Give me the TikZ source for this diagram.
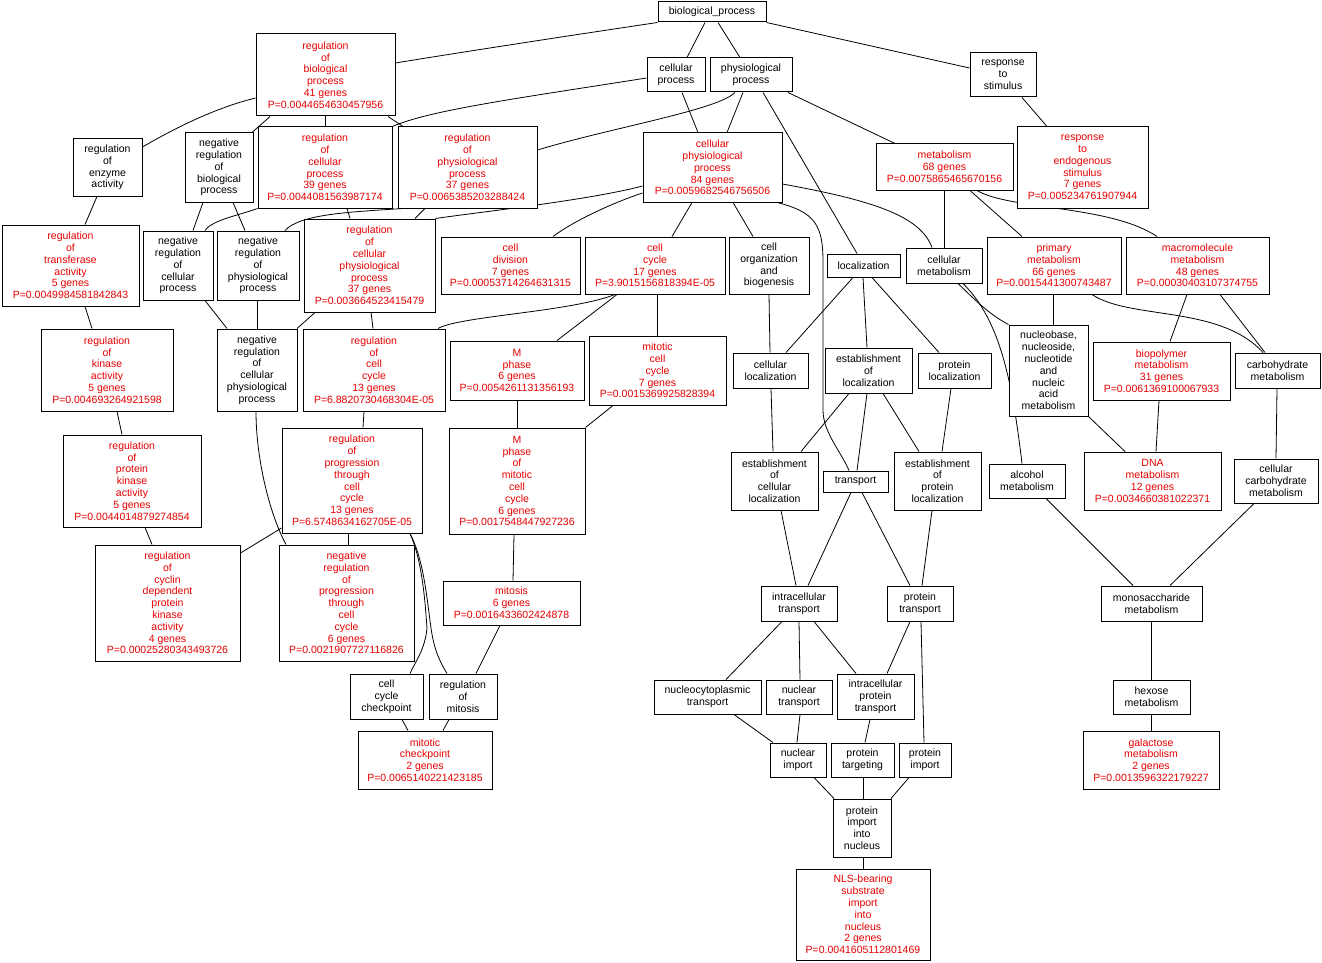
\documentclass[tikz,border=0pt]{standalone}
\usepackage{fontspec}
\setmainfont{Liberation Sans}
\usetikzlibrary{backgrounds}
\definecolor{goRed}{RGB}{230,0,0}
\tikzset{
  gbox/.style={draw=black, line width=1pt, fill=white, inner sep=0pt, align=center,
    font=\fontsize{10.5}{11.8}\selectfont},
  rbox/.style={gbox, text=goRed},
  conn/.style={line width=0.8pt, black},
}
\newcommand{\gonode}[7]{\node[#7, minimum width={(#4-#2)*1pt}, minimum height={(#5-#3)*1pt}] (#1) at ({(#2+#4)/2},{(#3+#5)/2}) {#6};}
\begin{document}
\begin{tikzpicture}[x=1pt,y=-1pt]
\useasboundingbox (0,0) rectangle (1322,963);
% ---------- nodes ----------
\gonode{bp}{658}{2}{766}{22}{biological\_process}{gbox}
\gonode{cp}{647}{58}{705}{92}{cellular\\process}{gbox}
\gonode{pp}{710}{58}{792}{92}{physiological\\process}{gbox}
\gonode{rs}{970}{53}{1036}{97}{response\\to\\stimulus}{gbox}
\gonode{rbp}{256}{34}{395}{116}{regulation\\of\\biological\\process\\41 genes\\P=0.0044654630457956}{rbox}
\gonode{roea}{73}{139}{142}{196}{regulation\\of\\enzyme\\activity}{gbox}
\gonode{nrbp}{185}{133}{253}{202}{negative\\regulation\\of\\biological\\process}{gbox}
\gonode{rcp}{258}{127}{392}{208}{regulation\\of\\cellular\\process\\39 genes\\P=0.0044081563987174}{rbox}
\gonode{rphp}{398}{127}{537}{208}{regulation\\of\\physiological\\process\\37 genes\\P=0.0065385203288424}{rbox}
\gonode{cpp}{643}{133}{782}{202}{cellular\\physiological\\process\\84 genes\\P=0.0059682546756506}{rbox}
\gonode{met}{876}{144}{1013}{190}{metabolism\\68 genes\\P=0.0075865465670156}{rbox}
\gonode{rets}{1017}{127}{1148}{208}{response\\to\\endogenous\\stimulus\\7 genes\\P=0.005234761907944}{rbox}
\gonode{rta}{2}{225}{139}{306}{regulation\\of\\transferase\\activity\\5 genes\\P=0.0049984581842843}{rbox}
\gonode{nrcp}{143}{231}{213}{300}{negative\\regulation\\of\\cellular\\process}{gbox}
\gonode{nrpp}{217}{231}{299}{300}{negative\\regulation\\of\\physiological\\process}{gbox}
\gonode{rcpp}{304}{219}{435}{312}{regulation\\of\\cellular\\physiological\\process\\37 genes\\P=0.003664523415479}{rbox}
\gonode{cd}{441}{237}{580}{294}{cell\\division\\7 genes\\P=0.00053714264631315}{rbox}
\gonode{cc}{585}{237}{725}{294}{cell\\cycle\\17 genes\\P=3.9015156818394E-05}{rbox}
\gonode{cob}{729}{237}{809}{294}{cell\\organization\\and\\biogenesis}{gbox}
\gonode{loc}{827}{254}{900}{277}{localization}{gbox}
\gonode{cm}{906}{248}{982}{283}{cellular\\metabolism}{gbox}
\gonode{prm}{987}{237}{1121}{294}{primary\\metabolism\\66 genes\\P=0.0015441300743487}{rbox}
\gonode{mm}{1126}{237}{1269}{294}{macromolecule\\metabolism\\48 genes\\P=0.00030403107374755}{rbox}
\gonode{rka}{41}{329}{173}{411}{regulation\\of\\kinase\\activity\\5 genes\\P=0.004693264921598}{rbox}
\gonode{nrcpp}{217}{329}{297}{411}{negative\\regulation\\of\\cellular\\physiological\\process}{gbox}
\gonode{rccy}{303}{329}{445}{411}{regulation\\of\\cell\\cycle\\13 genes\\P=6.8820730468304E-05}{rbox}
\gonode{mph}{450}{341}{584}{400}{M\\phase\\6 genes\\P=0.0054261131356193}{rbox}
\gonode{mcc}{589}{336}{726}{405}{mitotic\\cell\\cycle\\7 genes\\P=0.0015369925828394}{rbox}
\gonode{clo}{733}{353}{808}{388}{cellular\\localization}{gbox}
\gonode{eol}{825}{348}{912}{393}{establishment\\of\\localization}{gbox}
\gonode{plo}{918}{353}{991}{388}{protein\\localization}{gbox}
\gonode{nuc}{1009}{325}{1088}{416}{nucleobase,\\nucleoside,\\nucleotide\\and\\nucleic\\acid\\metabolism}{gbox}
\gonode{bpm}{1093}{342}{1230}{400}{biopolymer\\metabolism\\31 genes\\P=0.0061369100067933}{rbox}
\gonode{chm}{1235}{353}{1320}{388}{carbohydrate\\metabolism}{gbox}
\gonode{rpka}{63}{435}{201}{527}{regulation\\of\\protein\\kinase\\activity\\5 genes\\P=0.0044014879274854}{rbox}
\gonode{rptc}{282}{428}{422}{533}{regulation\\of\\progression\\through\\cell\\cycle\\13 genes\\P=6.5748634162705E-05}{rbox}
\gonode{mpmc}{449}{428}{585}{534}{M\\phase\\of\\mitotic\\cell\\cycle\\6 genes\\P=0.0017548447927236}{rbox}
\gonode{ecl}{731}{452}{818}{510}{establishment\\of\\cellular\\localization}{gbox}
\gonode{tr}{823}{471}{888}{492}{transport}{gbox}
\gonode{epl}{894}{452}{981}{510}{establishment\\of\\protein\\localization}{gbox}
\gonode{alc}{989}{464}{1065}{498}{alcohol\\metabolism}{gbox}
\gonode{dna}{1084}{452}{1221}{510}{DNA\\metabolism\\12 genes\\P=0.0034660381022371}{rbox}
\gonode{ccm}{1234}{459}{1318}{503}{cellular\\carbohydrate\\metabolism}{gbox}
\gonode{rcdk}{95}{545}{240}{661}{regulation\\of\\cyclin\\dependent\\protein\\kinase\\activity\\4 genes\\P=0.00025280343493726}{rbox}
\gonode{nrptc}{279}{545}{414}{661}{negative\\regulation\\of\\progression\\through\\cell\\cycle\\6 genes\\P=0.0021907727116826}{rbox}
\gonode{mit}{443}{581}{580}{625}{mitosis\\6 genes\\P=0.0016433602424878}{rbox}
\gonode{ccc}{350}{674}{423}{719}{cell\\cycle\\checkpoint}{gbox}
\gonode{rmi}{429}{674}{497}{719}{regulation\\of\\mitosis}{gbox}
\gonode{mck}{358}{731}{492}{789}{mitotic\\checkpoint\\2 genes\\P=0.0065140221423185}{rbox}
\gonode{ict}{761}{586}{837}{621}{intracellular\\transport}{gbox}
\gonode{ptr}{887}{586}{953}{621}{protein\\transport}{gbox}
\gonode{msm}{1101}{586}{1202}{621}{monosaccharide\\metabolism}{gbox}
\gonode{nct}{654}{680}{761}{714}{nucleocytoplasmic\\transport}{gbox}
\gonode{ntr}{766}{680}{832}{714}{nuclear\\transport}{gbox}
\gonode{iptr}{837}{674}{914}{719}{intracellular\\protein\\transport}{gbox}
\gonode{hex}{1113}{680}{1190}{714}{hexose\\metabolism}{gbox}
\gonode{nim}{770}{743}{826}{777}{nuclear\\import}{gbox}
\gonode{ptg}{831}{743}{894}{777}{protein\\targeting}{gbox}
\gonode{pim}{899}{743}{951}{777}{protein\\import}{gbox}
\gonode{gal}{1083}{731}{1219}{789}{galactose\\metabolism\\2 genes\\P=0.0013596322179227}{rbox}
\gonode{pin}{833}{799}{891}{857}{protein\\import\\into\\nucleus}{gbox}
\gonode{nls}{796}{869}{930}{960}{NLS-bearing\\substrate\\import\\into\\nucleus\\2 genes\\P=0.0041605112801469}{rbox}
% ---------- connectors ----------
\begin{scope}[on background layer]
\fill[white] (0,0) rectangle (1322,963);
\begin{scope}[conn]
\draw (bp.south west) .. controls (560,37) and (450,54) .. (rbp.east |- 0,63);
\draw (bp.south -| 705,0) -- (cp.north -| 687,0);
\draw (bp.south -| 718,0) -- (pp.north -| 740,0);
\draw (bp.south east) -- (rs.west |- 0,68);
\draw (rs.south -| 1022,0) -- (rets.north -| 1047,0);
\draw (cp.west |- 0,78) .. controls (520,98) and (430,110) .. (rcp.north east);
\draw (pp.south -| 735,0) .. controls (718,110) and (610,128) .. (rphp.east |- 0,150);
\draw (cp.south -| 682,0) -- (cpp.north -| 698,0);
\draw (pp.south -| 743,0) -- (cpp.north -| 727,0);
\draw (pp.south -| 763,0) -- (loc.north -| 857,0);
\draw (pp.south -| 788,0) -- (met.north -| 895,0);
\draw (rbp.west |- 0,98) .. controls (215,108) and (175,128) .. (roea.east |- 0,147);
\draw (rbp.south -| 270,0) -- (nrbp.north -| 252,0);
\draw (rbp.south -| 325,0) -- (rcp.north -| 325,0);
\draw (rbp.south -| 388,0) -- (rphp.north -| 403,0);
\draw (roea.south -| 97,0) -- (rta.north -| 85,0);
\draw (nrbp.south -| 203,0) -- (nrcp.north -| 193,0);
\draw (nrbp.south -| 233,0) -- (nrpp.north -| 245,0);
\draw (rcp.south west) .. controls (240,215) and (212,220) .. (nrcp.north -| 205,0);
\draw (rcp.south -| 347,0) -- (rcpp.north -| 350,0);
\draw (rphp.south -| 403,0) .. controls (350,212) and (300,214) .. (nrpp.north -| 285,0);
\draw (rphp.south -| 425,0) -- (rcpp.north -| 415,0);
\draw (cpp.west |- 0,186) .. controls (590,200) and (480,212) .. (rcpp.north east);
\draw (cpp.west |- 0,193) .. controls (615,202) and (575,220) .. (cd.north -| 553,0);
\draw (cpp.south -| 692,0) -- (cc.north -| 672,0);
\draw (cpp.south -| 733,0) -- (cob.north -| 753,0);
\draw (cpp.south -| 777,0) .. controls (815,212) and (823,225) .. (823,262) -- (823,410) .. controls (823,432) and (840,450) .. (tr.north -| 849,0);
\draw (cpp.east |- 0,184) .. controls (870,200) and (920,215) .. (cm.north -| 932,0);
\draw (met.south -| 944,0) -- (cm.north -| 944,0);
\draw (met.south -| 970,0) -- (prm.north -| 1022,0);
\draw (met.south -| 977,0) .. controls (1010,210) and (1110,205) .. (mm.north -| 1157,0);
\draw (rta.south -| 85,0) -- (rka.north -| 92,0);
\draw (nrcp.south -| 205,0) -- (nrcpp.north -| 227,0);
\draw (nrpp.south -| 257,0) -- (nrcpp.north -| 257,0);
\draw (rcpp.south -| 315,0) -- (nrcpp.north -| 297,0);
\draw (rcpp.south -| 371,0) -- (rccy.north -| 373,0);
\draw (cc.south -| 615,0) .. controls (570,312) and (460,316) .. (rccy.north -| 438,0);
\draw (cc.south -| 617,0) -- (mph.north -| 557,0);
\draw (cc.south -| 657,0) -- (mcc.north -| 657,0);
\draw (rka.south -| 117,0) -- (rpka.north -| 122,0);
\draw (nrcpp.south -| 256,0) .. controls (256,460) and (270,515) .. (nrptc.north -| 286,0);
\draw (rccy.south -| 364,0) -- (rptc.north -| 363,0);
\draw (mph.south -| 517,0) -- (mpmc.north -| 517,0);
\draw (mcc.south -| 613,0) -- (mpmc.north east);
\draw (mpmc.south -| 514,0) -- (mit.north -| 513,0);
\draw (rpka.south -| 145,0) -- (rcdk.north -| 152,0);
\draw (rptc.west |- 0,528) -- (rcdk.east |- 0,553);
\draw (rptc.south -| 348,0) -- (nrptc.north -| 348,0);
\draw (rptc.south -| 410,0) .. controls (424,560) and (427,600) .. (431,628) .. controls (434,650) and (440,662) .. (rmi.north -| 447,0);
\draw (rptc.south -| 410,0) .. controls (422,560) and (425,600) .. (427,628) .. controls (425,650) and (415,662) .. (ccc.north -| 410,0);
\draw (mit.south -| 500,0) -- (rmi.north -| 476,0);
\draw (ccc.south -| 402,0) -- (mck.north -| 408,0);
\draw (rmi.south -| 449,0) -- (mck.north -| 443,0);
\draw (cob.south -| 769,0) -- (clo.north -| 770,0);
\draw (loc.south -| 853,0) -- (clo.north -| 786,0);
\draw (loc.south -| 863,0) -- (eol.north -| 867,0);
\draw (loc.south -| 872,0) -- (plo.north -| 939,0);
\draw (clo.south -| 771,0) -- (ecl.north -| 773,0);
\draw (eol.south -| 849,0) -- (ecl.north -| 801,0);
\draw (eol.south -| 867,0) -- (tr.north -| 857,0);
\draw (eol.south -| 883,0) -- (epl.north -| 919,0);
\draw (plo.south -| 951,0) -- (epl.north -| 942,0);
\draw (ecl.south -| 781,0) -- (ict.north -| 796,0);
\draw (tr.south -| 851,0) -- (ict.north -| 808,0);
\draw (tr.south -| 862,0) -- (ptr.north -| 910,0);
\draw (epl.south -| 932,0) -- (ptr.north -| 922,0);
\draw (cm.south -| 958,0) .. controls (975,300) and (990,315) .. (nuc.north west);
\draw (cm.south -| 963,0) .. controls (1000,320) and (1012,380) .. (alc.north -| 1022,0);
\draw (prm.south -| 1053,0) -- (nuc.north -| 1053,0);
\draw (prm.south -| 1092,0) .. controls (1130,320) and (1220,305) .. (chm.north -| 1263,0);
\draw (mm.south -| 1187,0) -- (bpm.north -| 1170,0);
\draw (mm.south -| 1220,0) -- (chm.north -| 1265,0);
\draw (nuc.south east) -- (dna.north -| 1125,0);
\draw (bpm.south -| 1159,0) -- (dna.north -| 1156,0);
\draw (chm.south -| 1277,0) -- (ccm.north -| 1276,0);
\draw (alc.south -| 1046,0) -- (msm.north -| 1133,0);
\draw (ccm.south -| 1254,0) -- (msm.north -| 1170,0);
\draw (msm.south -| 1151,0) -- (hex.north -| 1151,0);
\draw (hex.south -| 1151,0) -- (gal.north -| 1151,0);
\draw (ict.south -| 782,0) -- (nct.north -| 726,0);
\draw (ict.south -| 799,0) -- (ntr.north -| 800,0);
\draw (ict.south -| 814,0) -- (iptr.north -| 856,0);
\draw (ptr.south -| 910,0) -- (iptr.north -| 887,0);
\draw (ptr.south -| 921,0) -- (pim.north -| 924,0);
\draw (nct.south -| 734,0) -- (nim.north -| 773,0);
\draw (ntr.south -| 800,0) -- (nim.north -| 797,0);
\draw (iptr.south -| 870,0) -- (ptg.north -| 865,0);
\draw (nim.south -| 814,0) -- (pin.north -| 834,0);
\draw (ptg.south -| 863,0) -- (pin.north -| 863,0);
\draw (pim.south -| 909,0) -- (pin.north -| 891,0);
\draw (pin.south -| 863,0) -- (nls.north -| 863,0);
\end{scope}
\end{scope}
\end{tikzpicture}
\end{document}
